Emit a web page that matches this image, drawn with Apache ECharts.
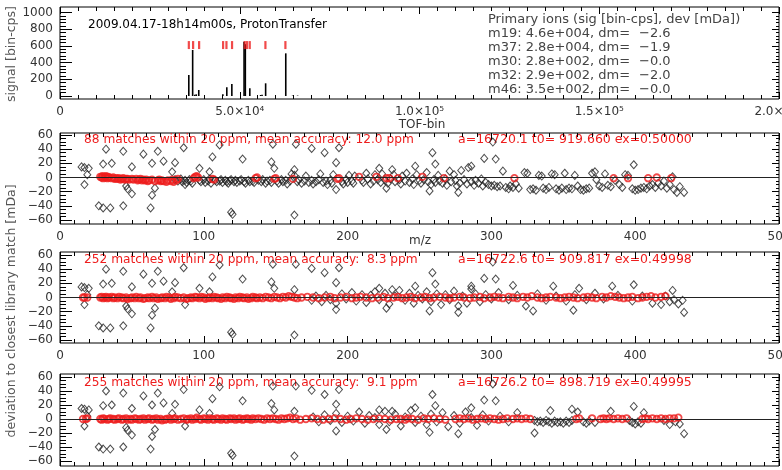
<!DOCTYPE html>
<html>
<head>
<meta charset="utf-8">
<script src="https://cdn.jsdelivr.net/npm/echarts@6/dist/echarts.min.js"></script>
<style>
html, body { margin: 0; padding: 0; background: #fff; }
#main { width: 782px; height: 470px; }
</style>
</head>
<body>
<div id="main"></div>
<script>
var FONT = '"DejaVu Sans", sans-serif';
var RED = '#ee1d1d';

// top panel: TOF spectrum
var tofBins   = [35830, 36900, 37500, 37900, 38600, 45300, 46400, 47800, 51200, 51550, 52800, 55800, 56200, 57200, 62800, 64700, 66100];
var tofSignal = [  251,   551,    15,    20,    72,    20,   104,   144,   650,   620,    92,    12,    15,   152,   511,     5,     5];
var libTof = [35836, 37030, 38700, 45364, 46300, 47860, 51390, 52030, 52780, 57140, 62700];
var libMarkLevel = 610;
var tofTickLabels = ['0', '5.0×10⁴', '1.0×10⁵', '1.5×10⁵', '2.0×10⁵'];

var spectrumTitle = '2009.04.17-18h14m00s, ProtonTransfer';
var ionHeader = 'Primary ions (sig [bin-cps], dev [mDa])';
var ionNames = ['m19', 'm37', 'm30', 'm32', 'm46'];
var ionSig = ['4.6e+004', '2.8e+004', '2.8e+002', '2.9e+002', '3.5e+002'];
var ionDev = ['−2.6', '−1.9', '−0.0', '−2.0', '−0.0'];

// calibration fits
var calMatches = ['88', '252', '255'];
var calAccuracy = ['12.0', ' 8.3', ' 9.1'];
var calA = ['16720.1', '16722.6', '16726.2'];
var calT0 = ['919.660', '909.817', '898.719'];
var calEx = ['0.50000', '0.49998', '0.49995'];

// scattered peaks far from any library mass (same in all three fits)
var outliers = [[15,15],[17,14],[20,13],[19,4],[17,-10],[27,-40],[30,-43],[35,-43],[32,40],[30,19],[36,20],[44,37],
  [46,-12],[47,-16],[44,-40],[50,15],[50,-23],[58,33],[64,20],[68,37],[63,-43],[64,-25],[66,-15],[72,23],[80,21],
  [78,8],[86,42],[87,-10],[97,13],[104,8],[106,29],[111,46],[119,-49],[120,-52],[127,26],[148,47],[147,22],[149,13],
  [164,47],[163,11],[163,-53],[175,41],[184,35],[192,21],[194,42],[192,-17],[222,13],[227,-15],[231,11],[247,16],
  [257,-19],[259,35],[261,19],[277,-21],[286,16],[295,27],[301,50],[303,26],[399,18],[434,-21]];

// fit 1
var p2Black = [[80,-3],[82,-5],[84,-2],[85,-6],[87,-4],[88,-7],[90,-3],[91,-5],[92,-8],[97,-4],[98,-6],[100,-3],[101,-7],
  [103,-5],[104,-2],[105,-8],[108,-4],[109,-6],[111,-5],[112,-3],[113,-7],[115,-4],[116,-6],[117,-8],[118,-5],[119,-3],
  [121,-6],[122,-4],[123,-7],[125,-5],[126,-3],[128,-6],[129,-8],[131,-4],[132,-6],[134,-5],[135,-7],[138,-4],[140,-6],
  [141,-3],[143,-8],[144,-5],[146,-4],[147,-7],[151,-5],[152,-8],[154,-3],[155,-6],[157,-4],[158,-9],[160,-5],[161,5],
  [163,3],[165,-6],[166,-3],[168,-8],[170,-5],[171,2],[173,-7],[175,-4],[176,-9],[178,-6],[180,-3],[181,5],[183,-7],
  [185,-5],[186,-10],[188,-4],[189,-8],[190,4],[196,-6],[197,-9],[199,-3],[200,-7],[201,3],[203,-5],[204,-8],[205,2],
  [210,-4],[211,-7],[213,6],[214,-2],[216,-9],[218,-5],[219,4],[221,-3],[223,-7],[224,5],[226,-4],[228,-8],[230,-2],
  [232,4],[233,-6],[236,-3],[237,-9],[238,2],[240,-5],[241,6],[243,-7],[245,-2],[246,-10],[248,4],[250,-4],[251,-8],
  [253,-3],[255,7],[256,-6],[258,-10],[260,-3],[261,-7],[263,3],[264,-5],[266,-8],[268,-2],[269,-11],[271,9],[272,-6],
  [274,4],[275,-4],[276,-12],[278,-8],[279,10],[281,-3],[283,-9],[284,14],[286,-6],[288,-11],[289,-4],[291,-8],[293,-2],
  [294,-12],[296,-7],[298,-10],[300,-12],[302,-11],[304,-13],[306,-12],[308,9],[310,-14],[312,-16],[313,-12],[315,-14],
  [317,-9],[319,-15],[323,7],[325,6],[327,-17],[329,-16],[331,-18],[333,3],[335,2],[336,-15],[338,-17],[340,-14],[342,5],
  [344,4],[345,-16],[347,-18],[349,-15],[351,6],[352,-17],[354,-15],[356,-16],[358,3],[360,-12],[362,-17],[364,-18],
  [366,-16],[368,-15],[370,6],[372,8],[373,-3],[375,-12],[377,-14],[379,5],[381,-11],[383,-13],[386,-4],[389,-10],
  [391,-14],[393,4],[395,3],[398,-16],[400,-18],[402,-17],[404,-15],[406,-14],[408,-16],[410,-12],[412,-10],[414,-14],
  [416,-8],[418,-12],[420,-5],[422,-15],[424,-10],[426,1],[427,-17],[429,-21],[431,-13]];
var p2Red = [[28,1],[29,0],[29.5,2],[30,-1],[31,1],[31.5,0],[32,2],[33,-1],[33.5,1],[34,0],[36,-1],[37,0],[38,-2],[39,-1],
  [40,-2],[41,-1],[42,-3],[43,-2],[44,-1],[45,-3],[46,-2],[47,-2],[48,-3],[50,-2],[51,-3],[53,-2],[54,-4],[55,-3],[56,-2],
  [57,-4],[58,-3],[59,-4],[60,-3],[61,-5],[62,-4],[64,-3],[66,-5],[68,-4],[69,-3],[70,-5],[71,-4],[72,-5],[74,-6],[75,-4],
  [77,-5],[78,-3],[79,-6],[81,-4],[82,-2],[93,-1],[94,1],[95,2],[96,0],[106,-2],[107,-3],[136,-1],[137,0],[149,-2],
  [150,-1],[162,-2],[193,-2],[194,-1],[208,1],[220,1],[227,-1],[229,-1],[235,-1],[252,1],[267,-1],[316,-1],[385,-1],
  [395,-1],[409,-1],[415,0],[425,-1]];

// fit 2
var p3Black = [[175,-4],[178,2],[182,-6],[185,3],[188,-3],[192,-8],[196,5],[199,-2],[203,7],[206,-5],[210,4],[213,-7],
  [216,3],[219,8],[222,-3],[226,6],[229,-9],[233,2],[236,10],[240,-4],[243,6],[246,-8],[249,3],[252,-2],[255,8],[258,-6],
  [262,5],[265,-10],[268,4],[271,-3],[274,9],[277,-12],[280,2],[283,-8],[286,12],[289,5],[292,-6],[296,4],[300,-2],[305,7],
  [312,-3],[315,17],[318,3],[324,-12],[329,-19],[332,5],[338,-4],[343,16],[345,2],[352,-5],[357,-18],[358,4],[361,13],
  [366,-3],[372,6],[378,-2],[384,16],[388,3],[398,-5],[405,2],[412,-8],[418,-10],[421,2],[424,-6],[426,10],[427,-3],
  [430,-9],[433,-4]];
var p3Red = [[16,0],[17,0],[19,0],[28,0],[29,1],[30,-1],[31,0],[32,1],[33,-1],[34,0],[36,1],[37,-1],[38,0],[40,-1],[41,1],
  [43,0],[44,-1],[46,0],[47,-2],[49,-1],[50,0],[52,-1],[53,1],[55,-1],[56,0],[58,-2],[59,-1],[61,0],[62,-1],[64,1],[65,-1],
  [67,0],[68,-2],[70,-1],[71,0],[73,-1],[74,1],[76,0],[77,-2],[79,-1],[80,1],[82,0],[84,-1],[86,0],[88,-2],[89,-1],[91,0],
  [92,-1],[94,1],[95,0],[97,-1],[98,1],[100,0],[101,-2],[103,-1],[104,0],[106,-1],[107,1],[109,0],[110,-1],[112,-2],
  [113,0],[115,-1],[116,1],[118,0],[119,-1],[121,-2],[122,0],[124,-1],[125,1],[127,0],[128,-1],[130,0],[131,-2],[133,-1],
  [134,1],[136,0],[137,-1],[139,0],[141,-1],[143,1],[145,0],[147,-1],[149,1],[151,0],[153,-1],[155,1],[157,0],[159,2],
  [161,1],[163,0],[165,-1],[168,0],[172,1],[176,0],[180,-1],[184,0],[188,1],[191,-1],[195,0],[199,1],[203,-1],[206,0],
  [209,1],[213,0],[217,-1],[221,0],[225,1],[228,-1],[232,0],[235,1],[238,-1],[241,0],[244,1],[247,-1],[251,0],[254,1],
  [257,-1],[260,0],[264,1],[268,0],[271,-1],[274,0],[278,1],[281,0],[285,-1],[288,0],[292,1],[295,-1],[299,0],[302,1],
  [305,0],[308,-1],[312,1],[315,0],[318,-1],[322,1],[325,0],[328,2],[332,0],[335,-1],[338,0],[341,1],[345,0],[348,-1],
  [351,0],[354,1],[357,0],[360,-1],[364,0],[367,1],[370,0],[373,-1],[377,1],[380,0],[383,2],[386,1],[389,0],[392,-1],
  [395,0],[398,1],[402,-1],[405,0],[408,1],[411,2],[414,0],[418,1],[421,2]];

// fit 3
var p4Black = [[176,3],[180,-4],[184,6],[188,-2],[192,8],[196,-5],[200,4],[204,-3],[208,10],[212,-6],[215,5],[219,2],
  [222,-8],[226,11],[229,-4],[233,7],[237,-10],[240,3],[244,12],[247,-5],[251,4],[255,-8],[258,7],[262,-4],[266,9],
  [270,-11],[274,5],[278,-6],[282,10],[286,2],[290,-9],[294,6],[298,-3],[306,4],[312,-4],[318,9],[330,-20],[330,-2],
  [332,-4],[334,-3],[336,-5],[338,-2],[340,-4],[341,12],[342,-6],[344,-3],[346,-5],[348,-4],[350,-6],[352,-3],[354,-5],
  [356,14],[356,-2],[360,10],[364,-4],[366,-6],[368,-3],[372,-5],[383,11],[396,-2],[398,-5],[400,-7],[402,-4],[404,-6],
  [406,9],[420,-2],[424,-8],[428,-4],[431,-7]];
var p4Red = [[16,0],[18,0],[19,1],[28,0],[29,-1],[30,1],[31,0],[33,-1],[34,0],[35,1],[37,0],[38,-1],[40,0],[41,1],[43,-1],
  [44,0],[46,1],[47,-1],[49,0],[50,-1],[52,1],[53,0],[55,-1],[56,0],[58,1],[59,-1],[61,0],[62,1],[64,-1],[65,0],[67,1],
  [68,-1],[70,0],[71,-2],[73,-1],[74,0],[76,1],[77,-1],[79,0],[80,1],[82,-1],[84,0],[86,1],[88,-1],[89,0],[91,1],[92,-1],
  [94,0],[95,2],[97,0],[98,-1],[100,1],[101,0],[103,-1],[104,1],[106,0],[107,-1],[109,1],[110,0],[112,-1],[113,1],[115,0],
  [116,-1],[118,1],[119,0],[121,1],[122,-1],[124,0],[125,1],[127,-1],[128,0],[130,1],[131,0],[133,-1],[134,1],[136,0],
  [138,1],[140,0],[142,-1],[144,1],[146,0],[148,1],[150,0],[152,-1],[154,1],[156,0],[158,1],[160,2],[162,0],[164,1],
  [167,-1],[171,0],[175,1],[179,0],[183,-1],[187,0],[191,1],[195,0],[199,-1],[202,0],[206,1],[210,0],[214,-1],[218,0],
  [222,1],[226,0],[230,-1],[234,0],[237,0],[240,-1],[242,1],[245,0],[249,-1],[253,1],[256,0],[260,1],[264,0],[268,-1],
  [275,0],[278,1],[281,0],[284,1],[287,-1],[290,0],[293,1],[296,0],[299,1],[302,0],[305,-1],[308,0],[311,1],[315,0],
  [318,1],[321,0],[324,1],[327,0],[359,0],[361,1],[370,1],[376,0],[378,1],[380,0],[382,1],[385,0],[388,1],[391,0],[394,1],
  [405,0],[407,1],[409,0],[412,1],[415,0],[418,1],[421,0],[424,1],[427,1],[430,2]];

var chart = echarts.init(document.getElementById('main'), null, {renderer: 'canvas'});

var option = {
    animation: false,
    backgroundColor: '#fff',
    textStyle: {fontFamily: FONT},
    grid: [], xAxis: [], yAxis: [], series: [], graphic: []
};

function tick(len) {
    return {show: true, inside: true, length: len, lineStyle: {color: '#000', width: 1}};
}
function minor(n, len) {
    return {show: true, splitNumber: n, length: len, lineStyle: {color: '#000', width: 1}};
}
function minusFmt(v) {
    return v < 0 ? '−' + (-v) : String(v);
}

// box = [frameTop, frameBottom, dataTop, dataBottom]
function addPanel(box, xMax, xStep, xFmt, yMin, yMax, yStep, yMinor) {
    var g = option.grid.length;
    option.grid.push({left: 60, right: 3, top: box[0], bottom: box[1], show: true, borderColor: '#000', borderWidth: 1,
        containLabel: false, outerBoundsMode: 'none'});
    option.grid.push({left: 60, right: 3, top: box[2], bottom: box[3], containLabel: false, outerBoundsMode: 'none'});
    var xBase = {type: 'value', gridIndex: g, min: 0, max: xMax, interval: xStep,
        axisLine: {show: false, onZero: false}, splitLine: {show: false},
        axisTick: tick(7), minorTick: minor(10, 4)};
    option.xAxis.push(Object.assign({}, xBase, {position: 'bottom',
        axisLabel: {show: true, margin: 7, color: '#333', fontSize: 12, fontFamily: FONT, formatter: xFmt,
            hideOverlap: false}}));
    option.xAxis.push(Object.assign({}, xBase, {position: 'top', axisLabel: {show: false}}));
    option.xAxis.push({type: 'value', gridIndex: g + 1, min: 0, max: xMax, show: false});
    option.yAxis.push({type: 'value', gridIndex: g, min: 0, max: 1, show: false});
    var yBase = {type: 'value', gridIndex: g + 1, min: yMin, max: yMax, interval: yStep,
        axisLine: {show: false, onZero: false}, splitLine: {show: false}};
    option.yAxis.push(Object.assign({}, yBase, {position: 'left', axisTick: tick(12), minorTick: minor(yMinor, 6),
        axisLabel: {margin: 7, color: '#333', fontSize: 12, fontFamily: FONT, formatter: minusFmt}}));
    option.yAxis.push(Object.assign({}, yBase, {position: 'right', axisTick: tick(7), minorTick: minor(yMinor, 3),
        axisLabel: {show: false}}));
    return {xi: option.xAxis.length - 1, yi: option.yAxis.length - 2};
}

function addText(txt, x, y, size, color, align, rot) {
    option.graphic.push({
        type: 'text', x: x, y: y, rotation: rot || 0, silent: true,
        style: {text: txt, font: size + 'px ' + FONT, fill: color,
            align: align || 'left', textAlign: align || 'left',
            verticalAlign: 'middle', textVerticalAlign: 'middle'}
    });
}

// spectrum
var spec = addPanel([7, 371, 12.5, 374], 200000, 50000,
    function(v){ return tofTickLabels[Math.round(v / 50000)]; }, 0, 1000, 200, 5);
option.series.push({
    type: 'bar', xAxisIndex: spec.xi, yAxisIndex: spec.yi, barWidth: 1.6, silent: true,
    itemStyle: {color: '#000'},
    data: tofBins.map(function(b, i){ return [b, tofSignal[i]]; })
});
option.series.push({
    type: 'scatter', xAxisIndex: spec.xi, yAxisIndex: spec.yi, symbol: 'rect', symbolSize: [2.2, 8], silent: true,
    itemStyle: {color: RED},
    data: libTof.map(function(t){ return [t, libMarkLevel]; })
});

// calibration panels
var panels = [
    {box: [133, 246, 135, 250], black: p2Black, red: p2Red, textY: 140},
    {box: [252, 127, 255, 130], black: p3Black, red: p3Red, textY: 260},
    {box: [374, 4, 377, 9],     black: p4Black, red: p4Red, textY: 383}
];
panels.forEach(function(p, i){
    var ax = addPanel(p.box, 500, 100, null, -60, 60, 20, 4);
    option.series.push({
        type: 'scatter', xAxisIndex: ax.xi, yAxisIndex: ax.yi, symbol: 'diamond', symbolSize: [7, 8], silent: true,
        itemStyle: {color: 'transparent', borderColor: '#222', borderWidth: 1},
        data: outliers.concat(p.black),
        markLine: {silent: true, symbol: ['none', 'none'], label: {show: false},
            lineStyle: {color: '#222', width: 1, type: 'solid'}, data: [{yAxis: 0}]}
    });
    option.series.push({
        type: 'scatter', xAxisIndex: ax.xi, yAxisIndex: ax.yi, symbol: 'circle', symbolSize: 6.5, silent: true,
        itemStyle: {color: 'transparent', borderColor: RED, borderWidth: 1.8},
        data: p.red
    });
    addText(calMatches[i] + ' matches within 20 ppm, mean accuracy: ' + calAccuracy[i] + ' ppm', 84, p.textY, 12.2, RED);
    addText('a=' + calA[i] + ' t0= ' + calT0[i] + ' ex=' + calEx[i], 458, p.textY, 12.5, RED);
});

// annotations
addText(spectrumTitle, 88, 25, 12, '#000');
addText(ionHeader, 488, 20, 13, '#444');
ionNames.forEach(function(n, i){
    addText(n + ': ' + ionSig[i] + ', dm=', 488, 34 + i * 14, 13, '#444');
    addText(ionDev[i], 639, 34 + i * 14, 13, '#444');
});
addText('TOF-bin', 422, 125, 12, '#333', 'center');
addText('m/z', 420, 241, 12, '#333', 'center');
addText('signal [bin-cps]', 12, 54, 12.5, '#555', 'center', Math.PI / 2);
addText('deviation to closest library match [mDa]', 12, 311, 12.5, '#555', 'center', Math.PI / 2);

chart.setOption(option);
</script>
</body>
</html>
